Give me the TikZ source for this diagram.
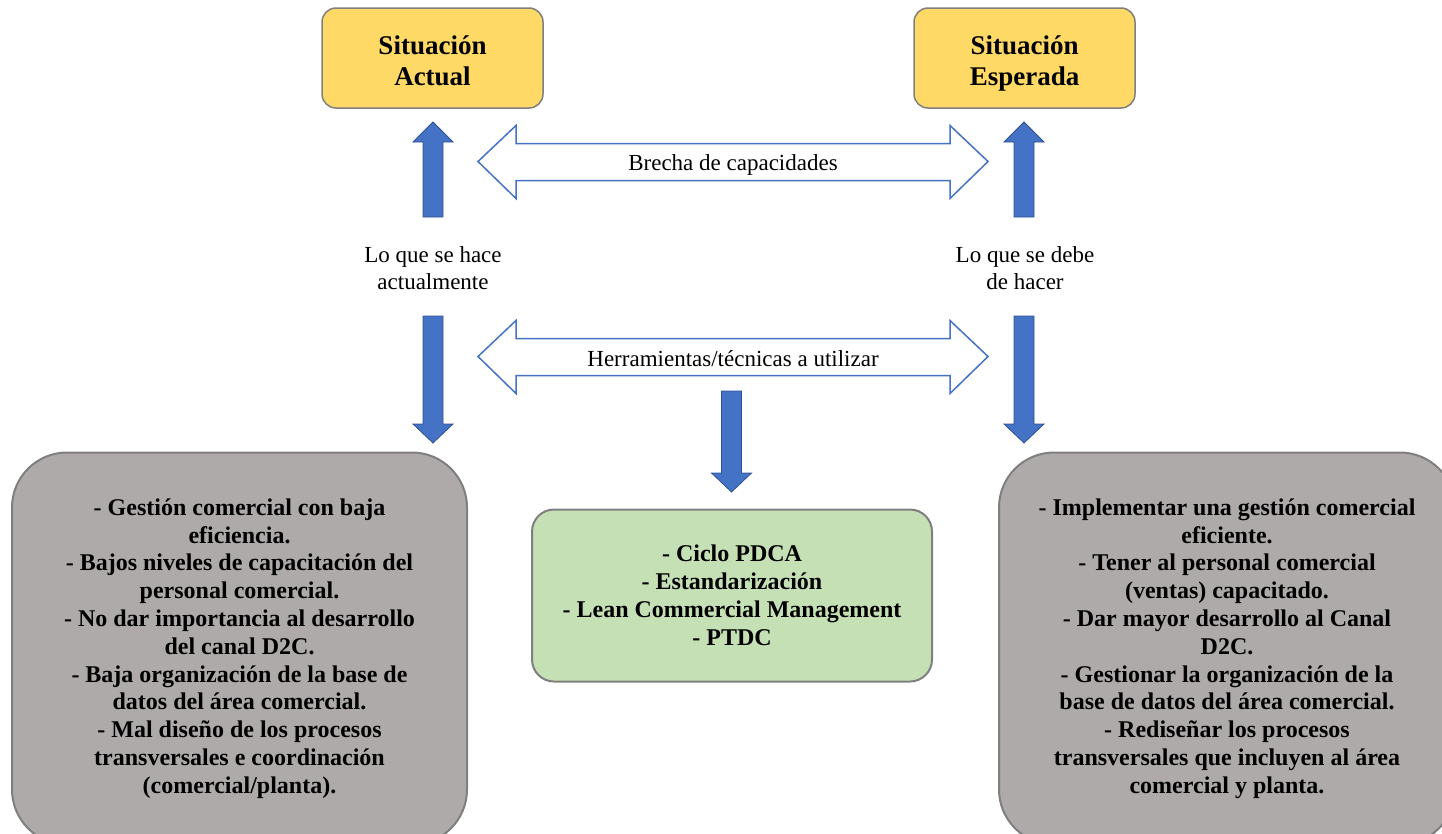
\documentclass[tikz,border=0pt]{standalone}
\usepackage{fontspec}
\setmainfont{Liberation Serif}
\usetikzlibrary{positioning}

\definecolor{boxyellow}{HTML}{FFD966}
\definecolor{boxgray}{HTML}{AEAAAA}
\definecolor{boxgreen}{HTML}{C5E0B4}
\definecolor{edgegray}{HTML}{7F7F7F}
\definecolor{arrowblue}{HTML}{4472C4}
\definecolor{arrowedge}{HTML}{2F528F}

% vertical block arrow: x, tail y, head base y, tip y
\newcommand{\vblockarrow}[4]{%
  \filldraw[blockarrow] (#1-10,#2) -- (#1-10,#3) -- (#1-20,#3) -- (#1,#4)
    -- (#1+20,#3) -- (#1+10,#3) -- (#1+10,#2) -- cycle;}

% horizontal two-headed outline arrow centred on y: left tip, right tip, y
\newcommand{\hdoublearrow}[3]{%
  \draw[outlinearrow] (#1,#3) -- (#1+38,#3-36) -- (#1+38,#3-18) -- (#2-38,#3-18)
    -- (#2-38,#3-36) -- (#2,#3) -- (#2-38,#3+37) -- (#2-38,#3+19)
    -- (#1+38,#3+19) -- (#1+38,#3+37) -- cycle;}

\begin{document}
\begin{tikzpicture}[x=1pt,y=-1pt,
  titlebox/.style={draw=edgegray, line width=1.5pt, fill=boxyellow,
    rounded corners=14pt, minimum width=221pt, minimum height=100pt},
  titletext/.style={align=center, yshift=-5pt,
    font=\bfseries\fontsize{27}{31}\selectfont},
  graybox/.style={draw=edgegray, line width=2pt, fill=boxgray,
    rounded corners=55pt, minimum height=392pt,
    align=center, font=\bfseries\fontsize{24}{27.8}\selectfont},
  greenbox/.style={draw=edgegray, line width=2pt, fill=boxgreen,
    rounded corners=22pt, minimum width=400pt, minimum height=172pt,
    align=center, font=\bfseries\fontsize{24}{28}\selectfont},
  plain/.style={align=center, inner sep=0pt, font=\fontsize{23}{27.5}\selectfont},
  blockarrow/.style={fill=arrowblue, draw=arrowedge, line width=0.8pt},
  outlinearrow/.style={fill=white, draw=arrowblue, line width=1.5pt, line join=miter}]

\useasboundingbox (0,0) rectangle (1442,833);
\clip (0,0) rectangle (1442,833);

% headline boxes
\node[titlebox, label={[titletext]center:{Situación\\Actual\vphantom{p}}}] (actual) at (432.5,58) {};
\node[titlebox, label={[titletext]center:{Situación\\Esperada}}] (esperada) at (1024.5,58) {};

% side captions
\node[plain] (hace) at (433,268) {Lo que se hace\\actualmente};
\node[plain] (debe) at (1025,268) {Lo que se debe\\de hacer};

% vertical block arrows
\vblockarrow{433}{217}{142}{122}
\vblockarrow{1024}{217}{142}{122}
\vblockarrow{433}{316}{424}{443}
\vblockarrow{1024}{316}{424}{443}
\vblockarrow{731.5}{391}{473}{492}

% two-headed arrows with their captions
\hdoublearrow{478}{988}{161.5}
\hdoublearrow{478}{988}{356.5}
\node[plain] (brecha) at (733,165) {Brecha de capacidades};
\node[plain] (herr) at (733,359) {Herramientas/técnicas a utilizar};

% bottom boxes
\node[graybox, minimum width=455pt] (hoy) at (239.5,648.5) {%
- Gestión comercial con baja\\
eficiencia.\\
- Bajos niveles de capacitación del\\
personal comercial.\\
- No dar importancia al desarrollo\\
del canal D2C.\\
- Baja organización de la base de\\
datos del área comercial.\\
- Mal diseño de los procesos\\
transversales e coordinación\\
(comercial/planta).};

\node[greenbox] (tools) at (732,595.5) {%
- Ciclo PDCA\\
- Estandarización\\
- Lean Commercial Management\\
- PTDC};

\node[graybox, minimum width=456pt] (meta) at (1227,648.5) {%
- Implementar una gestión comercial\\
eficiente.\\
- Tener al personal comercial\\
(ventas) capacitado.\\
- Dar mayor desarrollo al Canal\\
D2C.\\
- Gestionar la organización de la\\
base de datos del área comercial.\\
- Rediseñar los procesos\\
transversales que incluyen al área\\
comercial y planta.};

\end{tikzpicture}
\end{document}
